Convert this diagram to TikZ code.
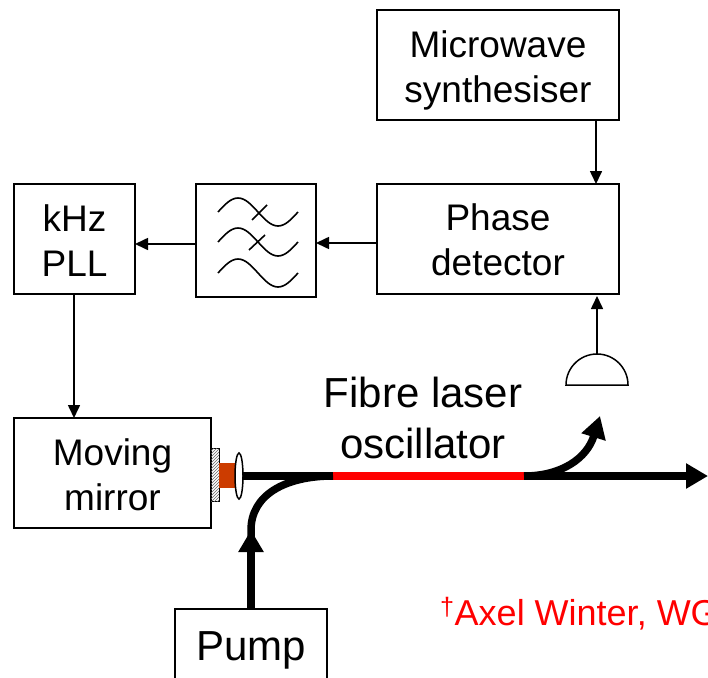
\documentclass[tikz,border=0pt]{standalone}
\usepackage{fontspec}
\setmainfont{Liberation Sans}
\usetikzlibrary{positioning}
\usetikzlibrary{shapes}
\usetikzlibrary{patterns}
\usetikzlibrary{arrows.meta}
\definecolor{cavity}{RGB}{204,60,0}
\tikzstyle{unit} = [rectangle,fill=white,draw=black,line width=1.6pt,inner sep=0pt,outer sep=0pt,
align=center, font=\fontsize{37}{45}\selectfont]
\tikzstyle{signal} = [->,line width=1.6pt]
\tikzstyle{fibre} = [line width=7.5pt]
\tikzstyle{bigtip} = [-{Triangle[length=22pt,width=24pt]}]
\tikzset{>={Triangle[length=13pt,width=12pt]}}
\newcommand{\wave}[1]{ %
  \draw[line width=1.6pt] (218,212+#1) sin (238,198+#1) cos (258,212+#1)
    sin (278,226+#1) cos (298,212+#1) ;%
}

\begin{document}
\begin{tikzpicture}[x=1pt,y=-1pt]
  \useasboundingbox (0,0) rectangle (708,677);
  \clip (0,0) rectangle (708,677);

  \node[unit, minimum width=242pt, minimum height=110pt] (mw) at (498,65) {\rule{0pt}{38pt}Microwave\\synthesiser};
  \node[unit, minimum width=242pt, minimum height=110pt, below=64pt of mw] (phase) {\rule{0pt}{29pt}Phase\\detector};
  \node[unit, minimum width=120pt, minimum height=113pt, left=61pt of phase, yshift=-1.5pt] (filter) {};
  \node[unit, minimum width=121pt, minimum height=110pt, left=61pt of filter, yshift=1.5pt] (khz) {\rule{0pt}{29pt}kHz\\PLL};
  \node[unit, minimum width=197pt, minimum height=110pt, below=124pt of khz.south west, anchor=north west] (mirror) {\rule{0pt}{31pt}Moving\\mirror};
  \node[unit, minimum width=152pt, minimum height=82pt, font=\fontsize{42}{50}\selectfont] (pump) at (251,650) {Pump};

  % filter symbol
  \foreach \yo in {0,30,61} { \wave{\yo} }
  \draw[line width=1.6pt] (252,220) -- (267,205) (249,250) -- (265,235);

  \draw[signal] ([xshift=98pt]mw.south) -- ([xshift=98pt]phase.north);
  \draw[signal] ([yshift=-4pt]phase.west) -- ([yshift=-2.5pt]filter.east);
  \draw[signal] ([yshift=-3.5pt]filter.west) -- ([yshift=-5pt]khz.east);
  \draw[signal] ([xshift=60pt]khz.south west) -- ([xshift=60pt]mirror.north west);

  % detector
  \coordinate (dettop) at (597,354);
  \draw[line width=1.5pt,fill=white] (566,385) arc (180:360:31) -- cycle;
  \draw[signal] (dettop) -- ([xshift=99pt,yshift=-2pt]phase.south);

  % end of the cavity
  \node[draw=black,fill=white,line width=1pt,minimum width=8pt,minimum height=53pt,inner sep=0pt,outer sep=0pt,
    right=0pt of mirror.east,yshift=-2pt] (coat) {};
  \fill[pattern=north east lines,pattern color=black!60] (coat.south west) rectangle (coat.north east);
  \node[fill=cavity,minimum width=18pt,minimum height=25pt,inner sep=0pt,outer sep=0pt,right=0pt of coat] (block) {};
  \node[ellipse,draw=black,fill=white,line width=1.5pt,minimum width=8pt,minimum height=46pt,
    inner sep=0pt,outer sep=0pt,right=-2pt of block,yshift=-1pt] (lens) {};

  \coordinate (a) at (333,476);
  \coordinate (b) at (524,476);
  \coordinate (out) at (708,476);
  \coordinate (pumpbend) at (251,530);
  \coordinate (branch) at (600,416);

  \draw[fibre] (lens.east) -- (a);
  \draw[fibre,red] (a) -- (b);
  \draw[fibre,bigtip] (b) -- (out);
  \draw[fibre] (pump.north) -- (pumpbend) .. controls (251,495) and (285,476) .. (a);
  \draw[fibre,bigtip] (pump.north) -- (pumpbend);
  \draw[fibre,bigtip] (b) .. controls (562,476) and (587,458) .. (branch);

  \node[align=center, font=\fontsize{42}{51.5}\selectfont] (laser) at (423,418) {Fibre laser\\oscillator};
  \node[red, anchor=base west, inner sep=0pt, font=\fontsize{36}{36}\selectfont] (note) at (440,625) {\textsuperscript{†}Axel Winter, WG};
\end{tikzpicture}
\end{document}
